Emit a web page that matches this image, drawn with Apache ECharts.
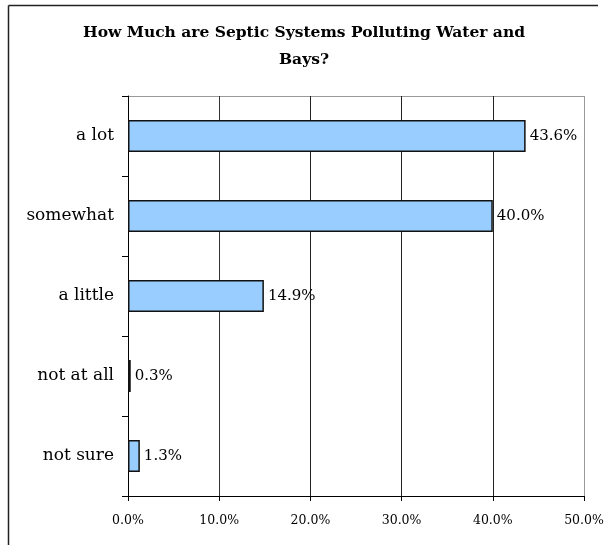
<!DOCTYPE html>
<html><head><meta charset="utf-8">
<script src="https://cdn.jsdelivr.net/npm/echarts@6/dist/echarts.min.js"></script>
<style>html,body{margin:0;padding:0;background:#fff}#c{width:608px;height:545px}</style>
</head><body><div id="c"></div>
<script>
const categories = ['a lot', 'somewhat', 'a little', 'not at all', 'not sure'];
const values = [43.6, 40.0, 14.9, 0.3, 1.3];
const tickLabels = ['0.0%', '10.0%', '20.0%', '30.0%', '40.0%', '50.0%'];
const titleText = 'How Much are Septic Systems Polluting Water and\nBays?';

const serif = '"DejaVu Serif", "Liberation Serif", serif';
const chart = echarts.init(document.getElementById('c'), null, {renderer: 'canvas'});
chart.setOption({
  animation: false,
  backgroundColor: '#fff',
  title: {
    text: titleText, left: 'center', top: 14,
    textStyle: {fontFamily: serif, fontWeight: 'bold', fontSize: 15.5, color: '#000', lineHeight: 27}
  },
  graphic: [
    {type: 'line', shape: {x1: 8.5, y1: 5.5, x2: 598, y2: 5.5}, style: {stroke: '#222', lineWidth: 1.5}},
    {type: 'line', shape: {x1: 8.5, y1: 5.5, x2: 8.5, y2: 545}, style: {stroke: '#222', lineWidth: 1.5}},
    {type: 'line', shape: {x1: 128, y1: 96.5, x2: 584, y2: 96.5}, style: {stroke: '#999', lineWidth: 1}}
  ],
  grid: {left: 128, top: 96, width: 456, height: 400, show: false, containLabel: false},
  xAxis: {
    type: 'value', min: 0, max: 50, interval: 10,
    axisLine: {show: true, lineStyle: {color: '#000', width: 1}},
    axisTick: {show: true, length: 5, lineStyle: {color: '#000'}},
    axisLabel: {
      fontFamily: serif, fontSize: 12.5, color: '#000', margin: 18,
      formatter: function (v) { return tickLabels[Math.round(v / 10)]; }
    },
    splitLine: {show: true, lineStyle: {color: ['#000', '#333', '#222', '#222', '#222', '#999'], width: 1}}
  },
  yAxis: {
    type: 'category', data: categories, inverse: true,
    axisLine: {show: true, lineStyle: {color: '#000', width: 1}},
    axisTick: {show: true, length: 6, lineStyle: {color: '#000'}},
    axisLabel: {fontFamily: serif, fontSize: 17, color: '#000', margin: 14}
  },
  series: [{
    type: 'bar', data: values, barWidth: 32,
    itemStyle: {color: '#99CCFF', borderColor: '#111', borderWidth: 1.5},
    label: {
      show: true, position: 'right', distance: 4,
      fontFamily: serif, fontSize: 15, color: '#000',
      formatter: function (p) { return p.value.toFixed(1) + '%'; }
    }
  }]
});
</script></body></html>
